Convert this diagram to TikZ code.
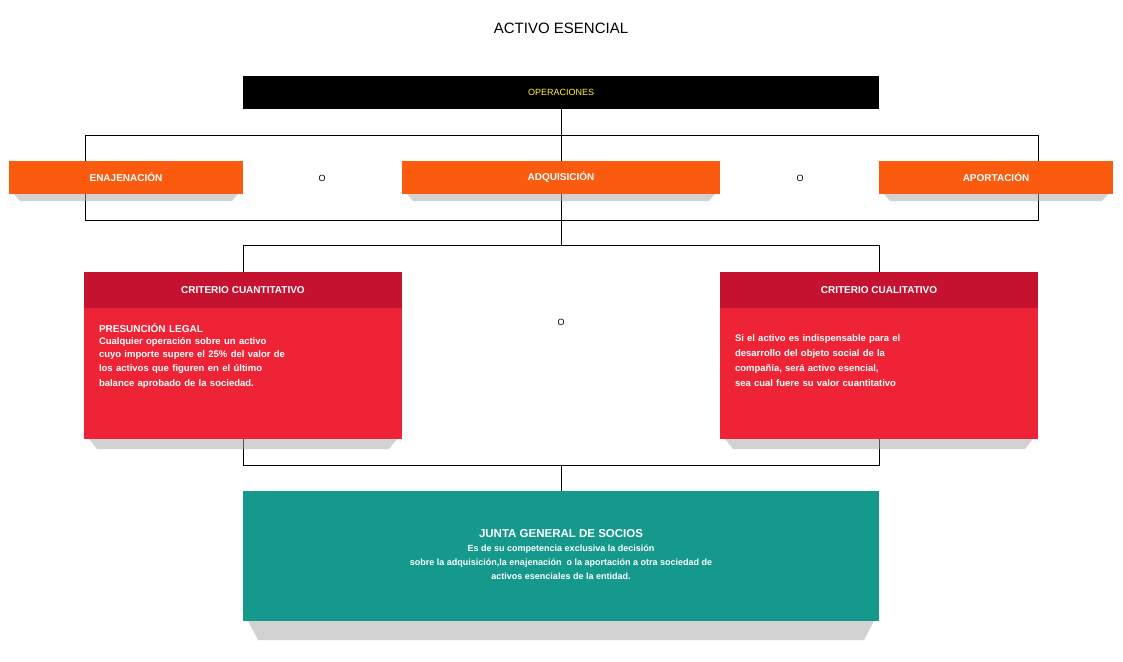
\documentclass[tikz,border=0pt]{standalone}
\usepackage{fontspec}
\setmainfont{Liberation Sans}
\usetikzlibrary{positioning}
\definecolor{naranja}{HTML}{FA5B0F}
\definecolor{rojo}{HTML}{EE2436}
\definecolor{rojooscuro}{HTML}{C41230}
\definecolor{verde}{HTML}{15998C}
\begin{document}
\begin{tikzpicture}[x=1pt,y=-1pt,
  caja/.style={anchor=north west,inner sep=0,outer sep=0,text=white,font=\bfseries\fontsize{10}{12}\selectfont},
  opcion/.style={caja,fill=naranja,minimum width=234,minimum height=33},
  sombra/.style={fill=black!35,opacity=.5},
  linea/.style={draw=black,line width=.7pt},
  letra/.style={font=\fontsize{9}{11}\selectfont}]
\useasboundingbox (0,0) rectangle (1123,661);
\node[font=\fontsize{15}{18}\selectfont] (titulo) at (561,28) {ACTIVO ESENCIAL};
\node[caja,fill=black,minimum width=636,minimum height=33,text=yellow!80!white,font=\fontsize{9}{11}\selectfont] (oper) at (243,76) {OPERACIONES};
% marcos
\draw[linea] (85,135) rectangle (1038,220);
\draw[linea] (243,245) rectangle (879,465);
\draw[linea] (oper.south) -- (561,245);
\draw[linea] (561,465) -- (561,491);
% sombras
\foreach \a/\b in {14/238,407/715,884/1108}
  \fill[sombra] (\a,194) -- (\b,194) -- (\b-6,201) -- (\a+6,201) -- cycle;
\foreach \a/\b in {89/397,725/1033}
  \fill[sombra] (\a,439) -- (\b,439) -- (\b-8,449) -- (\a+8,449) -- cycle;
\fill[sombra] (248,621) -- (874,621) -- (864,640) -- (258,640) -- cycle;
% operaciones
\node[opcion] (enaj) at (9,161) {ENAJENACIÓN};
\node[opcion,minimum width=318] (adq) at (402,161) {ADQUISICIÓN};
\node[opcion] (aport) at (879,161) {APORTACIÓN};
\node[letra] (o1) at (322,178) {O};
\node[letra] (o2) at (800,178) {O};
\node[letra] (o3) at (561,322) {O};
% criterios
\node[caja,fill=rojooscuro,minimum width=318,minimum height=36] (cuant) at (84,272) {CRITERIO CUANTITATIVO};
\node[caja,fill=rojo,minimum width=318,minimum height=131,anchor=north] (cuanttxt) at (cuant.south) {};
\node[caja,anchor=north west,align=left,text width=300,font=\bfseries\fontsize{10}{15}\selectfont] at (99,324) {PRESUNCIÓN LEGAL\\[-2pt]\fontsize{9.5}{13.5}\selectfont Cualquier operación sobre un activo\\ cuyo importe supere el 25\% del valor de\\ los activos que figuren en el último\\ balance aprobado de la sociedad.};
\node[caja,fill=rojooscuro,minimum width=318,minimum height=36] (cual) at (720,272) {CRITERIO CUALITATIVO};
\node[caja,fill=rojo,minimum width=318,minimum height=131,anchor=north] (cualtxt) at (cual.south) {};
\node[caja,anchor=north west,align=left,text width=300,font=\bfseries\fontsize{9.5}{15}\selectfont] at (735,335) {Si el activo es indispensable para el\\ desarrollo del objeto social de la\\ compañía, será activo esencial,\\ sea cual fuere su valor cuantitativo};
% junta
\node[caja,fill=verde,minimum width=636,minimum height=130] (junta) at (243,491) {};
\node[caja,anchor=center,align=center,font=\bfseries\fontsize{9}{14}\selectfont] at (561,555) {{\fontsize{11.5}{14}\selectfont JUNTA GENERAL DE SOCIOS}\\ Es de su competencia exclusiva la decisión\\ sobre la adquisición,la enajenación \ o la aportación a otra sociedad de\\ activos esenciales de la entidad.};
\end{tikzpicture}
\end{document}
